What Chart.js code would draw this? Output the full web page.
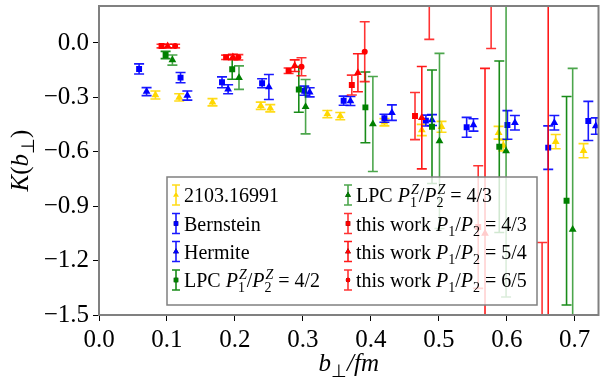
<!DOCTYPE html>
<html>
<head>
<meta charset="utf-8">
<script src="https://cdn.jsdelivr.net/npm/chart.js@4.4.0/dist/chart.umd.min.js"></script>
<style>
  html, body { margin: 0; padding: 0; background: #fff; }
</style>
</head>
<body>
<canvas id="myChart" width="603" height="381"></canvas>
<script>
'use strict';

// tick values
const xTicks = [0.0, 0.1, 0.2, 0.3, 0.4, 0.5, 0.6, 0.7];
const yTicks = [0.0, -0.3, -0.6, -0.9, -1.2, -1.5];

// 2103.16991
const arxivX = [0.083, 0.118, 0.167, 0.238, 0.252, 0.336, 0.355, 0.420, 0.475, 0.504, 0.588, 0.595, 0.672, 0.713];
const arxivY = [-0.287, -0.300, -0.327, -0.346, -0.360, -0.392, -0.403, -0.437, -0.480, -0.462, -0.495, -0.565, -0.544, -0.594];
const arxivErr = [0.022, 0.02, 0.02, 0.02, 0.02, 0.02, 0.02, 0.02, 0.031, 0.03, 0.035, 0.03, 0.039, 0.039];

// Bernstein
const bernX = [0.059, 0.120, 0.181, 0.240, 0.302, 0.360, 0.420, 0.481, 0.541, 0.601, 0.661, 0.720];
const bernY = [-0.143, -0.191, -0.217, -0.222, -0.263, -0.318, -0.415, -0.428, -0.465, -0.452, -0.577, -0.430];
const bernErr = [0.028, 0.028, 0.03, 0.025, 0.025, 0.025, 0.022, 0.03, 0.055, 0.079, 0.12, 0.108];

// Hermite
const hermX = [0.070, 0.130, 0.190, 0.250, 0.310, 0.370, 0.431, 0.490, 0.551, 0.612, 0.670, 0.731];
const hermY = [-0.268, -0.290, -0.255, -0.243, -0.272, -0.320, -0.384, -0.425, -0.452, -0.440, -0.440, -0.458];
const hermErr = [0.022, 0.025, 0.025, 0.069, 0.025, 0.025, 0.043, 0.03, 0.034, 0.04, 0.04, 0.045];

// LPC 4/2
const lpc42X = [0.098, 0.196, 0.294, 0.392, 0.490, 0.589, 0.688];
const lpc42Y = [-0.066, -0.145, -0.256, -0.355, -0.462, -0.572, -0.870];
const lpc42Err = [0.02, 0.055, 0.126, 0.195, 0.313, 0.473, 0.575];

// LPC 4/3
const lpc43X = [0.108, 0.206, 0.304, 0.403, 0.501, 0.599, 0.697];
const lpc43Y = [-0.094, -0.191, -0.351, -0.447, -0.540, -0.595, -1.028];
const lpc43Err = [0.028, 0.065, 0.15, 0.262, 0.483, 0.806, 0.888];

// this work 4/3
const w43X = [0.092, 0.187, 0.279, 0.372, 0.465, 0.558, 0.652];
const w43Y = [-0.017, -0.079, -0.153, -0.232, -0.403, -1.015, -1.75];
const w43Err = [0.01, 0.012, 0.015, 0.055, 0.13, 0.338, 0.65];

// this work 5/4
const w54X = [0.101, 0.197, 0.288, 0.381, 0.475, 0.568, 0.661];
const w54Y = [-0.017, -0.077, -0.125, -0.164, -0.412, -1.05, -1.9];
const w54Err = [0.01, 0.015, 0.032, 0.105, 0.282, 0.91, 2.3];

// this work 6/5
const w65X = [0.112, 0.205, 0.298, 0.391, 0.486, 0.577];
const w65Y = [-0.017, -0.079, -0.131, -0.048, 0.45, 0.5];
const w65Err = [0.01, 0.015, 0.05, 0.165, 0.43, 0.53];

const FONT = "'Liberation Serif', 'Times New Roman', serif";
Chart.defaults.font.family = FONT;

function pts(xs, ys) {
  return xs.map((x, i) => ({ x: x, y: ys[i] }));
}

function series(label, xs, ys, err, color, bar, style, radius) {
  return {
    label: label,
    data: pts(xs, ys),
    err: err,
    barColor: bar,
    pointStyle: style,
    pointRadius: radius,
    pointHoverRadius: radius,
    backgroundColor: color,
    borderColor: color,
    borderWidth: 0,
    showLine: false
  };
}

const datasets = [
  series('2103.16991', arxivX, arxivY, arxivErr, '#ffd700', 'rgba(255,215,0,0.9)', 'triangle', 4.5),
  series('Bernstein', bernX, bernY, bernErr, '#0000ff', 'rgba(0,0,255,0.9)', 'rect', 4.2),
  series('Hermite', hermX, hermY, hermErr, '#0000ff', 'rgba(0,0,255,0.9)', 'triangle', 4.5),
  series('LPC 4/2', lpc42X, lpc42Y, lpc42Err, '#008000', 'rgba(0,128,0,0.9)', 'rect', 4.2),
  series('LPC 4/3', lpc43X, lpc43Y, lpc43Err, '#008000', 'rgba(0,128,0,0.7)', 'triangle', 4.5),
  series('this work 4/3', w43X, w43Y, w43Err, '#ff0000', 'rgba(255,0,0,0.8)', 'rect', 4.2),
  series('this work 5/4', w54X, w54Y, w54Err, '#ff0000', 'rgba(255,0,0,0.9)', 'triangle', 4.5),
  series('this work 6/5', w65X, w65Y, w65Err, '#ff0000', 'rgba(255,0,0,0.8)', 'circle', 3)
];
// later series on top, like matplotlib
datasets.forEach((d, i) => { d.order = datasets.length - i; });

// legend text pieces: t text, i italic, sup / sub scripts
const legendRows = [
  [[{ t: '2103.16991' }], 0],
  [[{ t: 'Bernstein' }], 1],
  [[{ t: 'Hermite' }], 2],
  [[{ t: 'LPC ' }, { t: 'P', i: true, sup: 'Z', sub: '1' }, { t: '/' }, { t: 'P', i: true, sup: 'Z', sub: '2' }, { t: ' = 4/2' }], 3],
  [[{ t: 'LPC ' }, { t: 'P', i: true, sup: 'Z', sub: '1' }, { t: '/' }, { t: 'P', i: true, sup: 'Z', sub: '2' }, { t: ' = 4/3' }], 4],
  [[{ t: 'this work ' }, { t: 'P', i: true, sub: '1' }, { t: '/' }, { t: 'P', i: true, sub: '2' }, { t: ' = 4/3' }], 5],
  [[{ t: 'this work ' }, { t: 'P', i: true, sub: '1' }, { t: '/' }, { t: 'P', i: true, sub: '2' }, { t: ' = 5/4' }], 6],
  [[{ t: 'this work ' }, { t: 'P', i: true, sub: '1' }, { t: '/' }, { t: 'P', i: true, sub: '2' }, { t: ' = 6/5' }], 7]
];

function rich(ctx, parts, x, y, size, dry) {
  let cx = x;
  parts.forEach(p => {
    ctx.font = (p.i ? 'italic ' : '') + size + 'px ' + FONT;
    if (!dry) ctx.fillText(p.t, cx, y);
    cx += ctx.measureText(p.t).width;
    if (p.sup || p.sub) {
      const s = size * 0.7;
      let w = 0;
      if (p.sup) {
        ctx.font = 'italic ' + s + 'px ' + FONT;
        if (!dry) ctx.fillText(p.sup, cx + 1, y - size * 0.42);
        w = Math.max(w, ctx.measureText(p.sup).width + 1);
      }
      if (p.sub) {
        ctx.font = s + 'px ' + FONT;
        if (!dry) ctx.fillText(p.sub, cx, y + size * 0.25);
        w = Math.max(w, ctx.measureText(p.sub).width);
      }
      cx += w;
    }
  });
  return cx - x;
}

function errBar(ctx, px, top, bot, cap) {
  ctx.beginPath();
  ctx.moveTo(px, top); ctx.lineTo(px, bot);
  ctx.moveTo(px - cap, top); ctx.lineTo(px + cap, top);
  ctx.moveTo(px - cap, bot); ctx.lineTo(px + cap, bot);
  ctx.stroke();
}

const errorBars = {
  id: 'errorBars',
  beforeDatasetDraw(chart, args) {
    const ds = chart.data.datasets[args.index];
    const { ctx, chartArea: a, scales: { x, y } } = chart;
    ctx.save();
    ctx.beginPath();
    ctx.rect(a.left, a.top, a.right - a.left, a.bottom - a.top);
    ctx.clip();
    ctx.strokeStyle = ds.barColor;
    ctx.lineWidth = 1.6;
    ds.data.forEach((p, i) => {
      errBar(ctx, x.getPixelForValue(p.x), y.getPixelForValue(p.y + ds.err[i]),
        y.getPixelForValue(p.y - ds.err[i]), 5);
    });
    ctx.restore();
  }
};

const frame = {
  id: 'frame',
  afterDatasetsDraw(chart) {
    const { ctx, chartArea: a } = chart;
    ctx.save();
    // spines
    ctx.strokeStyle = '#808080';
    ctx.lineWidth = 2;
    ctx.strokeRect(a.left, a.top, a.right - a.left, a.bottom - a.top);

    // legend box
    const L = 167, T = 177, R = 537, B = 305;
    ctx.fillStyle = 'rgba(255,255,255,0.8)';
    ctx.fillRect(L, T, R - L, B - T);
    ctx.strokeStyle = '#808080';
    ctx.lineWidth = 1.5;
    ctx.strokeRect(L, T, R - L, B - T);

    const rowY = [195, 223.5, 251.5, 280];
    ctx.textBaseline = 'alphabetic';
    legendRows.forEach((row, k) => {
      const col = k < 4 ? 0 : 1;
      const ix = col === 0 ? 176 : 348;
      const cy = rowY[k % 4];
      const ds = chart.data.datasets[row[1]];
      ctx.strokeStyle = ds.barColor;
      ctx.lineWidth = 1.6;
      errBar(ctx, ix, cy - 10, cy + 10, 4);
      Chart.helpers.drawPoint(ctx, {
        pointStyle: ds.pointStyle, radius: ds.pointRadius * 0.75, borderWidth: 0
      }, ix, cy);
      ctx.fillStyle = ds.backgroundColor;
      ctx.fill();
      ctx.fillStyle = '#000';
      rich(ctx, row[0], ix + 8, cy + 7, 20);
    });

    // axis titles
    ctx.fillStyle = '#000';
    const xt = [{ t: 'b', i: true, sub: '\u22a5' }, { t: '/fm', i: true }];
    const xw = rich(ctx, xt, 0, 0, 25, true);
    rich(ctx, xt, (a.left + a.right) / 2 - xw / 2, 371, 25);

    const yt = [{ t: 'K', i: true }, { t: '(' }, { t: 'b', i: true, sub: '\u22a5' }, { t: ')' }];
    const yw = rich(ctx, yt, 0, 0, 25, true);
    ctx.translate(28, (a.top + a.bottom) / 2);
    ctx.rotate(-Math.PI / 2);
    rich(ctx, yt, -yw / 2, 0, 25);
    ctx.restore();
  }
};

function fmt(v) {
  if (Math.abs(v) < 1e-9) return '0.0';
  return (v < 0 ? '\u2212' : '') + Math.abs(v).toFixed(1);
}

const ctx = document.getElementById('myChart').getContext('2d');

new Chart(ctx, {
  type: 'scatter',
  data: { datasets: datasets },
  options: {
    responsive: false,
    animation: false,
    devicePixelRatio: 1,
    layout: { padding: { top: 6, right: 2, left: 0, bottom: 0 } },
    plugins: {
      legend: { display: false },
      tooltip: { enabled: false }
    },
    scales: {
      x: {
        type: 'linear',
        min: 0,
        max: 0.735,
        afterBuildTicks: s => { s.ticks = xTicks.map(v => ({ value: v })); },
        afterFit: s => { s.height = 66; s.paddingLeft = 0; s.paddingRight = 0; },
        border: { display: false },
        grid: { drawOnChartArea: false, drawTicks: true, tickLength: 6, color: '#000', tickWidth: 1 },
        ticks: {
          padding: 4,
          color: '#000',
          font: { family: FONT, size: 25 },
          callback: v => fmt(v),
          maxRotation: 0,
          autoSkip: false
        }
      },
      y: {
        type: 'linear',
        min: -1.5,
        max: 0.204,
        afterBuildTicks: s => { s.ticks = yTicks.map(v => ({ value: v })); },
        afterFit: s => { s.width = 99; s.paddingTop = 0; s.paddingBottom = 0; },
        border: { display: false },
        grid: { drawOnChartArea: false, drawTicks: true, tickLength: 6, color: '#000', tickWidth: 1 },
        ticks: {
          padding: 4,
          color: '#000',
          font: { family: FONT, size: 25 },
          callback: v => fmt(v),
          autoSkip: false
        }
      }
    }
  },
  plugins: [errorBars, frame]
});
</script>
</body>
</html>
